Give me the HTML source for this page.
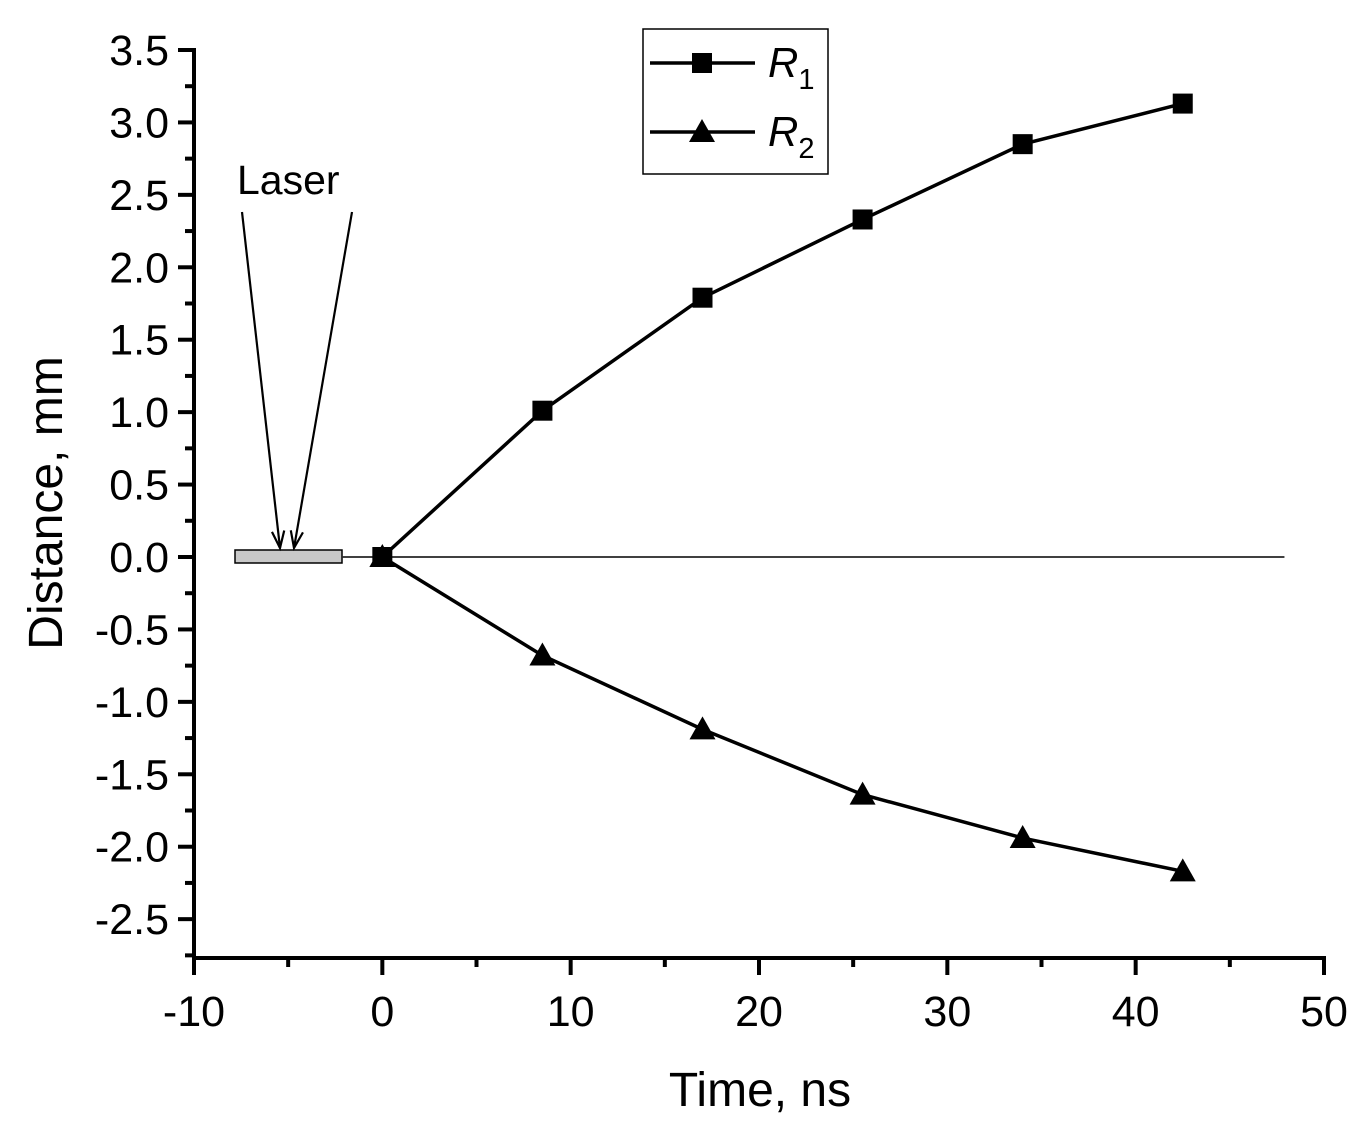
<!DOCTYPE html>
<html><head><meta charset="utf-8"><style>
body{margin:0;background:#fff;}
svg text{font-family:"Liberation Sans",Arial,sans-serif;fill:#000;}
</style></head><body>
<svg id="chart" width="1370" height="1143" xmlns="http://www.w3.org/2000/svg">
<g id="g"></g>
</svg>
<script>
const xTicks=[-10,0,10,20,30,40,50];
const yTicks=[3.5,3.0,2.5,2.0,1.5,1.0,0.5,0.0,-0.5,-1.0,-1.5,-2.0,-2.5];
const times=[0,8.5,17,25.5,34,42.5];
const r1=[0,1.01,1.79,2.33,2.85,3.13];
const r2=[0,-0.68,-1.19,-1.64,-1.94,-2.17];

const X0=194,X1=1324,Y0=958;
const sx=v=>X0+(v+10)/60*(X1-X0);
const sy=v=>557-v*144.86;
const NS="http://www.w3.org/2000/svg";
const g=document.getElementById('g');
function mk(t,a,p){const e=document.createElementNS(NS,t);for(const k in a)e.setAttribute(k,a[k]);(p||g).appendChild(e);return e;}

let e=mk('line',{x1:sx(-2.1),x2:sx(47.9),y1:sy(0),y2:sy(0),stroke:'#000','stroke-width':1.5});

e=mk('rect',{x:235,y:550,width:107,height:13,fill:'#c8c8c8',stroke:'#000','stroke-width':1.5});

[[242,212,280,548],[352,212,294,548]].forEach((a,i)=>{
 e=mk('line',{x1:a[0],y1:a[1],x2:a[2],y2:a[3],stroke:'#000','stroke-width':2.2});
 
 const ang=Math.atan2(a[3]-a[1],a[2]-a[0]);
 const L=18,w=0.35;
 e=mk('polyline',{points:`${a[2]-L*Math.cos(ang-w)},${a[3]-L*Math.sin(ang-w)} ${a[2]},${a[3]} ${a[2]-L*Math.cos(ang+w)},${a[3]-L*Math.sin(ang+w)}`,fill:'none',stroke:'#000','stroke-width':2.2});
 
});
e=mk('text',{x:237,y:194,'font-size':41});e.textContent='Laser';


e=mk('line',{x1:X0,x2:X0,y1:48,y2:Y0+2,stroke:'#000','stroke-width':4});

e=mk('line',{x1:X0-2,x2:X1+2,y1:Y0,y2:Y0,stroke:'#000','stroke-width':4});

xTicks.forEach((v,i)=>{
 e=mk('line',{x1:sx(v),x2:sx(v),y1:Y0,y2:Y0+17,stroke:'#000','stroke-width':4});
 
 e=mk('text',{x:sx(v),y:1026,'font-size':43,'text-anchor':'middle'});e.textContent=v;
 
 if(i<xTicks.length-1){e=mk('line',{x1:sx(v+5),x2:sx(v+5),y1:Y0,y2:Y0+9,stroke:'#000','stroke-width':4});
 }
});
yTicks.forEach((v,i)=>{
 e=mk('line',{x1:X0-16,x2:X0,y1:sy(v),y2:sy(v),stroke:'#000','stroke-width':4});
 
 e=mk('text',{x:X0-25,y:sy(v)+15,'font-size':43,'text-anchor':'end'});e.textContent=v.toFixed(1);
 
 e=mk('line',{x1:X0-9,x2:X0,y1:sy(v-0.25),y2:sy(v-0.25),stroke:'#000','stroke-width':4});
 
});
e=mk('text',{x:760,y:1106,'font-size':48,'text-anchor':'middle'});e.textContent='Time, ns';

e=mk('text',{x:0,y:0,'font-size':48,'text-anchor':'middle',transform:'translate(62,503) rotate(-90)'});e.textContent='Distance, mm';


function series(vals,name,shape){
 const pts=times.map((t,i)=>sx(t)+','+sy(vals[i])).join(' ');
 let l=mk('polyline',{points:pts,fill:'none',stroke:'#000','stroke-width':3.5});
 
 times.forEach((t,i)=>{marker(sx(t),sy(vals[i]),shape,name+'-point');});
}
function marker(x,y,shape,name){
 let m;
 if(shape==='sq')m=mk('rect',{x:x-10,y:y-10,width:20,height:20,fill:'#000'});
 else m=mk('polygon',{points:`${x},${y-13} ${x+13},${y+10} ${x-13},${y+10}`,fill:'#000'});
 
}
series(r2,'r2','tri');
series(r1,'r1','sq');

e=mk('rect',{x:643,y:29,width:185,height:145,fill:'#fff',stroke:'#000','stroke-width':1.5});

[[63,'sq','1'],[132,'tri','2']].forEach(d=>{
 e=mk('line',{x1:650,x2:755,y1:d[0],y2:d[0],stroke:'#000','stroke-width':3.5});
 
 marker(702,d[0],d[1],'legend-marker');
 e=mk('text',{x:768,y:d[0]+14,'font-size':42,'font-style':'italic'});
 
 e.innerHTML='R<tspan font-style="normal" font-size="29" dy="12">'+d[2]+'</tspan>';
});
</script>
</body></html>
